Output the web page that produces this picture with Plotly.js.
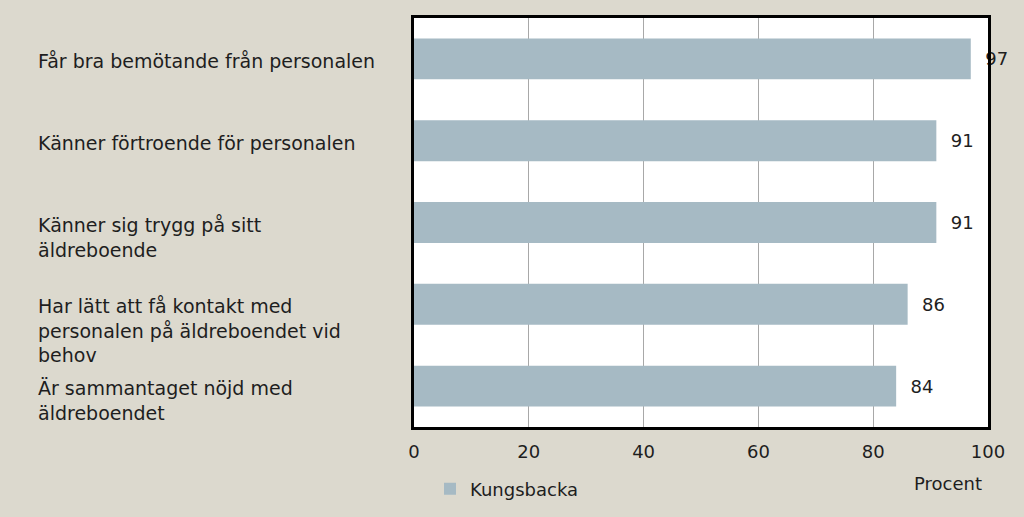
<!DOCTYPE html>
<html>
<head>
<meta charset="utf-8">
<script src="https://cdn.plot.ly/plotly-3.0.1.min.js"></script>
<style>
  html, body { margin: 0; padding: 0; background: #dcd9ce; }
  #chart { width: 1024px; height: 517px; }
</style>
</head>
<body>
<div id="chart"></div>
<script>
// data
const categories = [
  'Får bra bemötande från personalen',
  'Känner förtroende för personalen',
  'Känner sig trygg på sitt<br>äldreboende',
  'Har lätt att få kontakt med<br>personalen på äldreboendet vid<br>behov',
  'Är sammantaget nöjd med<br>äldreboendet'
]
const kungsbacka = [97, 91, 91, 86, 84]
const xTicks = [0, 20, 40, 60, 80, 100]

const font = 'DejaVu Sans, sans-serif'
const textColor = '#1e1e1e'

// category labels sit left-aligned with their first line at the bar centre
let labelNotes = categories.map(c => ({
  text: c,
  xref: 'paper',
  x: -0.658,
  xanchor: 'left',
  yref: 'y',
  y: c,
  yanchor: 'top',
  yshift: 11,
  align: 'left',
  showarrow: false,
  font: { family: font, size: 19, color: textColor }
}))

// axis unit, bottom right under the 80-100 ticks
labelNotes.push({
  text: 'Procent',
  xref: 'paper',
  x: 0.93,
  xanchor: 'center',
  yref: 'paper',
  y: -56 / 409,
  yanchor: 'middle',
  showarrow: false,
  font: { family: font, size: 18, color: textColor }
})

let trace = {
  type: 'bar',
  orientation: 'h',
  name: 'Kungsbacka',
  x: kungsbacka,
  y: categories,
  marker: { color: '#a6bac4' },
  text: kungsbacka.map(v => '\u00a0\u00a0' + v),
  textposition: 'outside',
  cliponaxis: false,
  textfont: { family: font, size: 18, color: textColor },
  hoverinfo: 'none'
}

let layout = {
  width: 1024,
  height: 517,
  margin: { l: 414, r: 36, t: 18, b: 90, autoexpand: false },
  paper_bgcolor: '#dcd9ce',
  plot_bgcolor: '#ffffff',
  bargap: 0.5,
  showlegend: true,
  legend: {
    orientation: 'h',
    xref: 'container',
    x: 430 / 1024,
    xanchor: 'left',
    yref: 'container',
    y: (517 - 489) / 517,
    yanchor: 'middle',
    font: { family: font, size: 18, color: textColor },
    bgcolor: 'rgba(0,0,0,0)',
    itemwidth: 30
  },
  xaxis: {
    range: [0, 100],
    tickvals: xTicks,
    ticktext: xTicks.map(String),
    showgrid: true,
    gridcolor: '#a8a8a8',
    gridwidth: 1,
    zeroline: false,
    showline: true,
    mirror: true,
    linecolor: '#000000',
    linewidth: 3,
    ticks: '',
    ticklabelstandoff: 6,
    automargin: false,
    tickfont: { family: font, size: 18, color: textColor },
    fixedrange: true
  },
  yaxis: {
    autorange: 'reversed',
    showticklabels: false,
    showgrid: false,
    zeroline: false,
    showline: true,
    mirror: true,
    linecolor: '#000000',
    linewidth: 3,
    ticks: '',
    automargin: false,
    fixedrange: true
  },
  annotations: labelNotes
}

Plotly.newPlot('chart', [trace], layout, { displayModeBar: false, staticPlot: true })
</script>
</body>
</html>
